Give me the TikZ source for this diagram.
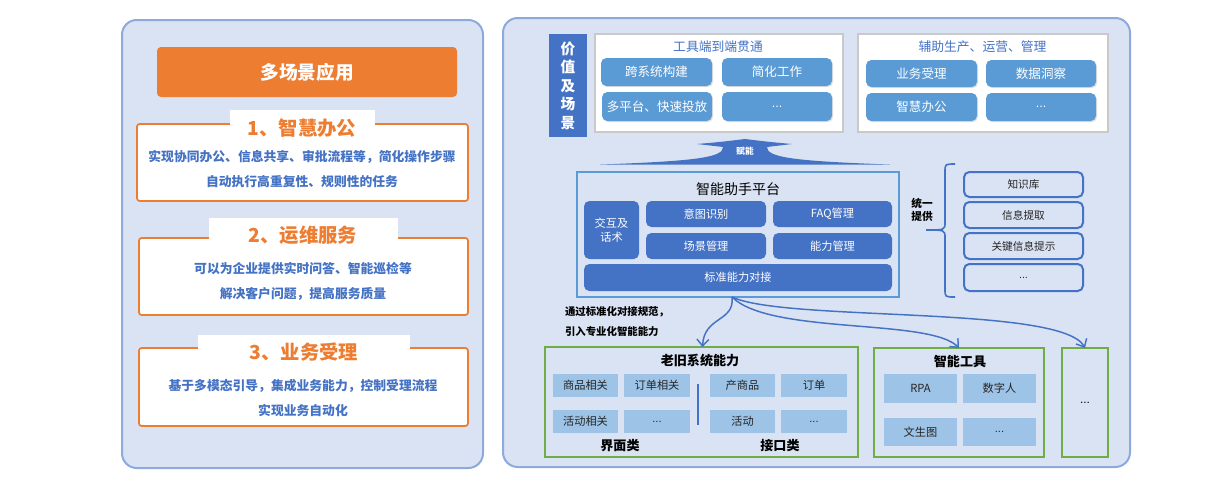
\documentclass[tikz,border=0pt]{standalone}
\usepackage{fontspec}
\setmainfont{Noto Sans CJK SC}
\newfontfamily\latinfont{Liberation Sans}
\newcommand\eld{{\latinfont ...}}
\usetikzlibrary{arrows.meta,shadows,calc}
\definecolor{panel}{HTML}{DAE3F3}
\definecolor{panelb}{HTML}{8EA9DB}
\definecolor{orng}{HTML}{ED7D31}
\definecolor{dblue}{HTML}{4472C4}
\definecolor{mblue}{HTML}{5B9BD5}
\definecolor{lblue}{HTML}{9DC3E6}
\definecolor{grn}{HTML}{70AD47}
\definecolor{gry}{HTML}{C9C9C9}
\definecolor{txt}{HTML}{262626}
% box from corner (x1,y1) to (x2,y2), in pixels
\newcommand\bx[7]{\node[#1,minimum width={(#5-#3)*0.75pt},minimum height={(#6-#4)*0.75pt}] (#2) at ({(#3+#5)/2},{(#4+#6)/2}) {#7};}
\begin{document}
\begin{tikzpicture}[x=0.75pt,y=-0.75pt,
  every node/.style={inner sep=0pt,outer sep=0pt},
  panelbox/.style={draw=panelb,fill=panel,line width=1.5pt,rounded corners=11pt},
  orangebar/.style={fill=orng,rounded corners=3pt,text=white,font=\bfseries\fontsize{14}{16}\selectfont},
  obox/.style={draw=orng,fill=white,line width=1.3pt,rounded corners=2pt},
  tabbox/.style={fill=white},
  tablabel/.style={text=orng,font=\bfseries\fontsize{14.5}{16}\selectfont},
  otext/.style={text=dblue,font=\bfseries\fontsize{9.6}{18.8}\selectfont,align=center},
  card/.style={draw=gry,fill=white,line width=1.5pt},
  cardtitle/.style={text=dblue,font=\fontsize{9.6}{11}\selectfont},
  btn/.style={fill=mblue,rounded corners=4pt,text=white,font=\fontsize{9.4}{11}\selectfont,
    drop shadow={opacity=0.25,shadow xshift=0.8pt,shadow yshift=-0.8pt}},
  vbar/.style={fill=dblue,text=white,font=\bfseries\fontsize{11}{13.9}\selectfont,align=center},
  platbox/.style={draw=mblue,line width=1.5pt},
  pbtn/.style={fill=dblue,rounded corners=4pt,text=white,font=\fontsize{8.4}{10.5}\selectfont,align=center},
  lbox/.style={draw=dblue,line width=1.5pt,rounded corners=4pt,text=txt,font=\fontsize{8}{10}\selectfont},
  gbox/.style={draw=grn,line width=1.5pt},
  cell/.style={fill=lblue,text=txt,font=\fontsize{8.4}{10}\selectfont},
  btitle/.style={text=black,font=\bfseries\fontsize{9.8}{12}\selectfont},
  note/.style={text=black,font=\bfseries\fontsize{7.8}{15.5}\selectfont},
  link/.style={draw=dblue,line width=1.1pt,-{Straight Barb[length=5pt,width=9pt]}}
]
\useasboundingbox (0,0) rectangle (1225,501);

% ---------- left panel ----------
\bx{panelbox}{lp}{122}{20}{483}{468}{}
\bx{orangebar}{title}{157}{47}{457}{97}{多场景应用}

\bx{obox}{o1}{137}{124}{468}{201}{}
\bx{tabbox}{t1}{230}{110}{375}{138}{}
\node[tablabel] (t1l) at (302,128) {1、智慧办公};
\node[otext] (o1t) at (302,169.5) {实现协同办公、信息共享、审批流程等，简化操作步骤\\自动执行高重复性、规则性的任务};

\bx{obox}{o2}{139}{238}{468}{315}{}
\bx{tabbox}{t2}{209}{218}{398}{250}{}
\node[tablabel] (t2l) at (303,235) {2、运维服务};
\node[otext] (o2t) at (303,281.5) {可以为企业提供实时问答、智能巡检等\\解决客户问题，提高服务质量};

\bx{obox}{o3}{139}{348}{468}{426}{}
\bx{tabbox}{t3}{198}{335}{410}{362}{}
\node[tablabel] (t3l) at (304,352.5) {3、业务受理};
\node[otext] (o3t) at (303,398) {基于多模态引导，集成业务能力，控制受理流程\\实现业务自动化};

% ---------- right panel ----------
\bx{panelbox}{rp}{503}{18}{1130}{467}{}

\bx{vbar}{vb}{549}{34}{587}{137}{价\\值\\及\\场\\景}

\bx{card}{c1}{595}{34}{843}{132}{}
\node[cardtitle] (c1t) at (718,47) {工具端到端贯通};
\bx{btn}{b11}{601}{58}{712}{86}{跨系统构建}
\bx{btn}{b12}{722}{58}{832}{86}{简化工作}
\bx{btn}{b13}{602}{92}{712}{121}{多平台、快速投放}
\bx{btn}{b14}{722}{92}{832}{121}{\eld}

\bx{card}{c2}{858}{34}{1108}{132}{}
\node[cardtitle] (c2t) at (982.5,47) {辅助生产、运营、管理};
\bx{btn}{b21}{866}{60}{977}{87}{业务受理}
\bx{btn}{b22}{986}{60}{1096}{87}{数据洞察}
\bx{btn}{b23}{866}{93}{977}{121}{智慧办公}
\bx{btn}{b24}{986}{93}{1096}{121}{\eld}

% empowerment arrow shape
\fill[dblue] (600,164.5) .. controls (700,161) and (723,157) .. (723,147) -- (697,144)
  .. controls (720,142) .. (745,139) .. controls (770,142) .. (792,144) -- (767,147)
  .. controls (767,157) and (790,161) .. (890,164.5) -- cycle;
\node[text=white,font=\bfseries\fontsize{6.5}{7}\selectfont] (fn) at (745,151) {赋能};

% platform
\bx{platbox}{plat}{577}{172}{899}{297}{}
\node[text=black,font=\fontsize{10.5}{12}\selectfont] (platt) at (738,189) {智能助手平台};
\bx{pbtn}{p1}{584}{201}{639}{259}{交互及\\话术}
\bx{pbtn}{p2}{646}{201}{766}{227}{意图识别}
\bx{pbtn}{p3}{773}{201}{892}{227}{FAQ管理}
\bx{pbtn}{p4}{646}{233}{766}{259}{场景管理}
\bx{pbtn}{p5}{773}{233}{892}{259}{能力管理}
\bx{pbtn}{p6}{584}{264}{892}{291}{标准能力对接}

% brace and list
\draw[dblue,line width=1.2pt] (955,164) .. controls (945,164) .. (945,172) -- (945,222)
  .. controls (945,230) .. (926,230) .. controls (945,230) .. (945,238) -- (945,289)
  .. controls (945,297) .. (955,297);
\node[text=black,font=\bfseries\fontsize{8}{9.8}\selectfont,align=center] (uni) at (922,209.5) {统一\\提供};
\bx{lbox}{k1}{964}{172}{1083}{197}{知识库}
\bx{lbox}{k2}{964}{202}{1083}{228}{信息提取}
\bx{lbox}{k3}{964}{233}{1083}{259}{关键信息提示}
\bx{lbox}{k4}{964}{264}{1083}{291}{\eld}

% note
\node[note,align=left,anchor=west] (nt) at (565,321.5) {通过标准化对接规范，\\引入专业化智能能力};

% old systems
\bx{gbox}{old}{545}{347}{858}{457}{}
\node[btitle] (oldt) at (700,361) {老旧系统能力};
\bx{cell}{o11}{553}{374}{618}{397}{商品相关}
\bx{cell}{o12}{624}{374}{690}{397}{订单相关}
\bx{cell}{o13}{553}{410}{618}{433}{活动相关}
\bx{cell}{o14}{624}{410}{690}{433}{\eld}
\bx{cell}{o21}{710}{374}{775}{397}{产商品}
\bx{cell}{o22}{781}{374}{847}{397}{订单}
\bx{cell}{o23}{710}{410}{775}{433}{活动}
\bx{cell}{o24}{781}{410}{847}{433}{\eld}
\coordinate (sepa) at (698,384);
\coordinate (sepb) at (698,425);
\draw[dblue,line width=1.2pt] (sepa) -- (sepb);
\node[btitle] (ui) at (620,446) {界面类};
\node[btitle] (api) at (780,446) {接口类};

% tools
\bx{gbox}{tools}{874}{348}{1044}{457}{}
\node[btitle] (toolst) at (960,361) {智能工具};
\bx{cell}{t11}{884}{374}{957}{403}{RPA}
\bx{cell}{t12}{963}{374}{1036}{403}{数字人}
\bx{cell}{t13}{884}{418}{957}{446}{文生图}
\bx{cell}{t14}{963}{418}{1036}{446}{\eld}

\bx{gbox,text=black,font=\fontsize{9}{10}\selectfont}{more}{1062}{348}{1108}{457}{\eld}

% connectors
\coordinate (src) at ([xshift=-0.75pt*6]plat.south);
\draw[link] (src) .. controls (735,322) and (704,316) .. ([xshift=0.75pt*1]old.north);
\draw[link] (src) .. controls (770,335) and (930,318) .. (tools.north);
\draw[link] (src) .. controls (785,322) and (1062,305) .. (more.north);
\end{tikzpicture}
\end{document}
